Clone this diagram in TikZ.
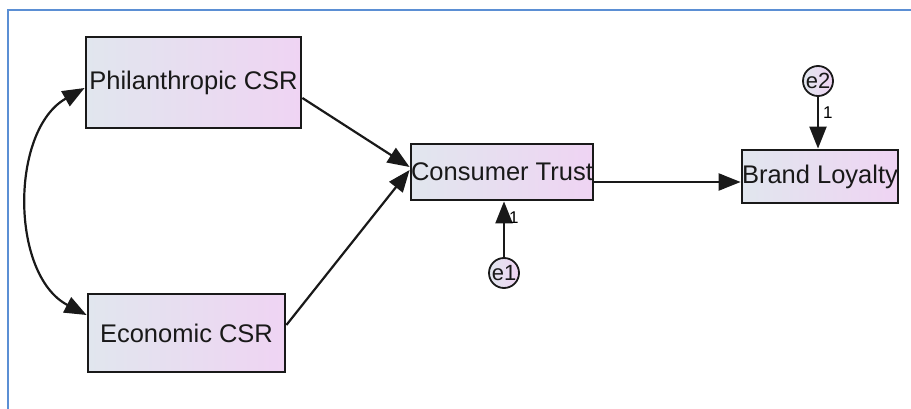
\documentclass[tikz,border=0pt]{standalone}
\usepackage{fontspec}
\setmainfont{Liberation Sans}
\usetikzlibrary{arrows.meta}
\definecolor{boxleft}{HTML}{E1E6EE}
\definecolor{boxright}{HTML}{EFD4F3}
\definecolor{framecol}{HTML}{5B8FD4}
\tikzset{
  varbox/.style={draw=black!90, line width=2.8pt, rectangle, left color=boxleft, right color=boxright,
    inner sep=0pt, font=\fontsize{25.5}{25.5}\selectfont, text=black!90},
  errvar/.style={draw=black!90, line width=1.8pt, circle, left color=boxleft, right color=boxright,
    minimum size=30pt, inner sep=0pt, font=\fontsize{22}{22}\selectfont, text=black!90},
  path/.style={line width=2.2pt, draw=black!90, -{Triangle[length=22pt,width=17pt]}},
  cov/.style={line width=2.2pt, draw=black!90, {Triangle[length=22pt,width=17pt]}-{Triangle[length=22pt,width=17pt]}},
  wlabel/.style={font=\fontsize{17}{17}\selectfont, inner sep=0pt}
}
\begin{document}
\begin{tikzpicture}[x=1pt, y=-1pt]
  \useasboundingbox (0,0) rectangle (911,409);
  % window frame
  \draw[framecol, line width=2.5pt] (8,409) -- (8,10) -- (911,10);

  % observed variables
  \node[varbox, minimum width=215pt, minimum height=91pt] (phil) at (193.5,82.5) {Philanthropic CSR};
  \node[varbox, minimum width=197pt, minimum height=78pt] (econ) at (186.5,333) {Economic CSR};
  \node[varbox, minimum width=182pt, minimum height=56pt] (trust) at (502,172) {Consumer Trust};
  \node[varbox, minimum width=146pt, minimum height=53pt] (loyal) at (820,176.5) {Brand Loyalty};

  % error terms
  \node[errvar] (e1) at (504,273) {e1};
  \node[errvar] (e2) at (818,81) {e2};

  % structural paths
  \draw[path] (phil.east |- 0,98) -- (trust.west |- 0,167);
  \draw[path] (econ.east |- 0,325) -- (trust.west |- 0,170);
  \draw[path] (trust.east |- 0,182) -- (loyal.west |- 0,182);
  \draw[path] (e1.north) -- (trust.south -| e1) node[wlabel, pos=0.7, right=4pt] {1};
  \draw[path] (e2.south) -- (loyal.north -| e2) node[wlabel, pos=0.3, right=4pt] {1};

  % covariance between the CSR dimensions
  \draw[cov] (phil.west |- 0,88) .. controls (10,130) and (10,275) .. (econ.west |- 0,315);
\end{tikzpicture}
\end{document}
